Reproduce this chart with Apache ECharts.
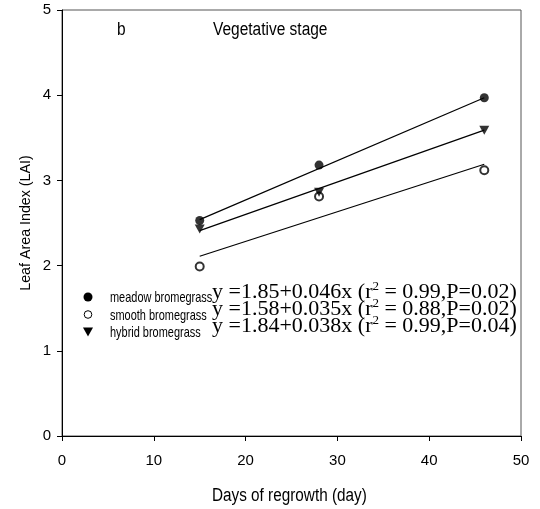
<!DOCTYPE html>
<html>
<head>
<meta charset="utf-8">
<script src="https://cdn.jsdelivr.net/npm/echarts@6/dist/echarts.min.js"></script>
<style>
  html, body { margin: 0; padding: 0; background: #fff; }
  #chart { width: 540px; height: 509px; }
</style>
</head>
<body>
<div id="chart"></div>
<script>
  // days of regrowth
  var days = [15, 28, 46];
  // LAI
  var meadow = [2.53, 3.18, 3.97];
  var smooth = [1.99, 2.81, 3.12];
  var hybrid = [2.43, 2.86, 3.59];
  // fitted lines, ends
  var fitDays = [15, 46];
  var meadowFit = [2.54, 3.97];
  var smoothFit = [2.11, 3.19];
  var hybridFit = [2.41, 3.59];
  var names = ['meadow bromegrass', 'smooth bromegrass', 'hybrid bromegrass'];
  var equations = [
    'y =1.85+0.046x (r{sup|2} = 0.99,P=0.02)',
    'y =1.58+0.035x (r{sup|2} = 0.88,P=0.02)',
    'y =1.84+0.038x (r{sup|2} = 0.99,P=0.04)'
  ];
  var xTicks = [0, 10, 20, 30, 40, 50];
  var yTicks = [0, 1, 2, 3, 4, 5];

  var sans = 'Liberation Sans, Arial, sans-serif';
  var serif = 'Liberation Serif, Times New Roman, serif';
  var triDown = 'path://M0,0 L10,0 L5,9 Z';

  function pairs(xs, ys) {
    return xs.map(function (x, i) { return [x, ys[i]]; });
  }

  // narrow sans text, like the Arial Narrow of the original
  function narrowText(str, x, y, size, sx) {
    return {
      type: 'text', x: x, y: y, scaleX: sx,
      style: { text: str, font: size + 'px ' + sans, fill: '#000', align: 'left', verticalAlign: 'middle' }
    };
  }

  var legendX = 88, legendTextX = 110, legendRows = [297, 314.5, 332];
  var legendGraphic = [
    { type: 'circle', shape: { cx: legendX, cy: legendRows[0], r: 4.5 }, style: { fill: '#000' } },
    { type: 'circle', shape: { cx: legendX, cy: legendRows[1], r: 3.8 }, style: { fill: '#fff', stroke: '#000', lineWidth: 1 } },
    { type: 'polygon', shape: { points: [[legendX - 5, legendRows[2] - 4.5], [legendX + 5, legendRows[2] - 4.5], [legendX, legendRows[2] + 4.5]] }, style: { fill: '#000' } }
  ].concat(names.map(function (n, i) {
    return narrowText(n, legendTextX, legendRows[i] + 1, 15, 0.73);
  }));

  var chart = echarts.init(document.getElementById('chart'));

  chart.setOption({
    backgroundColor: '#fff',
    animation: false,
    grid: {
      left: 62,
      right: 19,
      top: 10,
      bottom: 73,
      show: true,
      borderColor: '#555',
      borderWidth: 1
    },
    xAxis: {
      type: 'value',
      min: xTicks[0],
      max: xTicks[xTicks.length - 1],
      interval: 10,
      axisLine: { lineStyle: { color: '#000', width: 1 } },
      axisTick: { show: true, inside: false, length: 5, lineStyle: { color: '#000' } },
      axisLabel: { margin: 17, fontFamily: sans, fontSize: 15, color: '#000' },
      splitLine: { show: false }
    },
    yAxis: {
      type: 'value',
      min: yTicks[0],
      max: yTicks[yTicks.length - 1],
      interval: 1,
      axisLine: { show: true, lineStyle: { color: '#000', width: 1 } },
      axisTick: { show: true, inside: false, length: 5, lineStyle: { color: '#000' } },
      axisLabel: { margin: 11, fontFamily: sans, fontSize: 15, color: '#000' },
      splitLine: { show: false }
    },
    graphic: [
      narrowText('b', 117, 30, 18, 0.86),
      narrowText('Vegetative stage', 213, 30, 18, 0.86),
      narrowText('Days of regrowth (day)', 212, 496, 18, 0.85),
      {
        type: 'text', x: 26, y: 223, rotation: Math.PI / 2, scaleX: 0.95,
        style: { text: 'Leaf Area Index (LAI)', font: '15px ' + sans, fill: '#000', align: 'center', verticalAlign: 'middle' }
      }
    ].concat(legendGraphic).concat(equations.map(function (eq, i) {
      return {
        type: 'text',
        x: 212,
        y: 292 + i * 17,
        z: 10,
        style: {
          text: eq,
          fontFamily: serif,
          fontSize: 22,
          fill: '#000',
          align: 'left',
          verticalAlign: 'middle',
          rich: {
            sup: { fontFamily: serif, fontSize: 13, verticalAlign: 'top', padding: [0, 0, 10, 0] }
          }
        }
      };
    })),
    series: [
      {
        name: names[0],
        type: 'scatter',
        symbol: 'circle',
        symbolSize: 9,
        itemStyle: { color: '#000' },
        data: pairs(days, meadow),
        z: 5
      },
      {
        name: names[1],
        type: 'scatter',
        symbol: 'emptyCircle',
        symbolSize: 8,
        itemStyle: { color: '#000', borderWidth: 1 },
        data: pairs(days, smooth),
        z: 4
      },
      {
        name: names[2],
        type: 'scatter',
        symbol: triDown,
        symbolSize: [10, 9],
        itemStyle: { color: '#000' },
        data: pairs(days, hybrid),
        z: 5
      },
      {
        type: 'line', showSymbol: false, silent: true,
        lineStyle: { color: '#000', width: 1.2 },
        data: pairs(fitDays, meadowFit)
      },
      {
        type: 'line', showSymbol: false, silent: true,
        lineStyle: { color: '#000', width: 1.2 },
        data: pairs(fitDays, smoothFit)
      },
      {
        type: 'line', showSymbol: false, silent: true,
        lineStyle: { color: '#000', width: 1.2 },
        data: pairs(fitDays, hybridFit)
      }
    ]
  });
</script>
</body>
</html>
